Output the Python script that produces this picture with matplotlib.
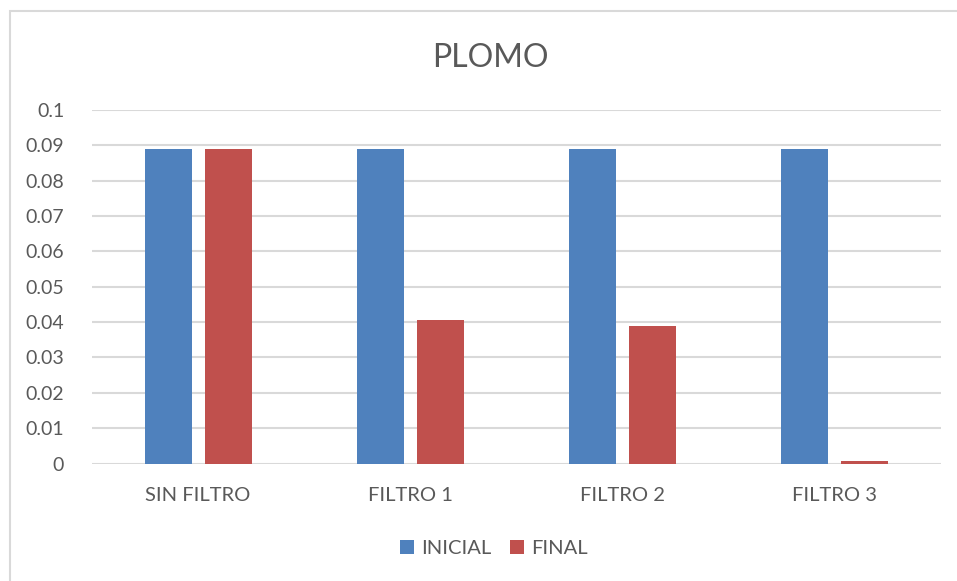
import numpy as np
import matplotlib
matplotlib.use("Agg")
from matplotlib import pyplot as plt
from matplotlib.patches import Rectangle

# data
categories = ["SIN FILTRO", "FILTRO 1", "FILTRO 2", "FILTRO 3"]
inicial = [0.089, 0.089, 0.089, 0.089]
final = [0.089, 0.0405, 0.0389, 0.0006]
yticks = [0, 0.01, 0.02, 0.03, 0.04, 0.05, 0.06, 0.07, 0.08, 0.09, 0.1]
ytick_labels = ["0", "0.01", "0.02", "0.03", "0.04", "0.05", "0.06", "0.07", "0.08", "0.09", "0.1"]

BLUE = "#4F81BD"
RED = "#C0504D"
TXT = "#595959"
GRID = "#D9D9D9"

plt.rcParams["font.family"] = ["Lato", "DejaVu Sans"]

fig = plt.figure(figsize=(9.57, 5.81), dpi=100)
ax = fig.add_axes([0.0961, 0.2022, 0.8872, 0.6085])

x = np.arange(len(categories))
w = 0.222
off = 0.1413
ax.bar(x - off, inicial, w, color=BLUE, label="INICIAL", zorder=3)
ax.bar(x + off, final, w, color=RED, label="FINAL", zorder=3)

ax.set_xlim(-0.5, len(categories) - 0.5)
ax.set_ylim(0, 0.1)
ax.set_yticks(yticks)
ax.set_yticklabels(ytick_labels)
ax.set_xticks(x)
ax.set_xticklabels(categories)
ax.tick_params(axis="both", length=0, labelsize=14, colors=TXT)
ax.tick_params(axis="x", labelsize=14.5, pad=17)
ax.tick_params(axis="y", pad=20)
ax.grid(axis="y", color=GRID, linewidth=1.5, zorder=0)
for s in ax.spines.values():
    s.set_visible(False)

fig.text(0.512, 0.9, "PLOMO", ha="center", va="center", fontsize=23, color=TXT)

leg = fig.legend(loc="center", bbox_to_anchor=(0.516, 0.056), ncol=2, frameon=False,
                 fontsize=14.5, handlelength=0.7, handleheight=0.7, handletextpad=0.35,
                 columnspacing=0.95)
for t in leg.get_texts():
    t.set_color(TXT)

# chart frame
fig.patches.append(Rectangle((10 / 957, -0.05), 1.2, (581 - 11) / 581 + 0.05,
                             transform=fig.transFigure, fill=False,
                             edgecolor=GRID, linewidth=1.5))

fig.savefig("out.png", dpi=100)
